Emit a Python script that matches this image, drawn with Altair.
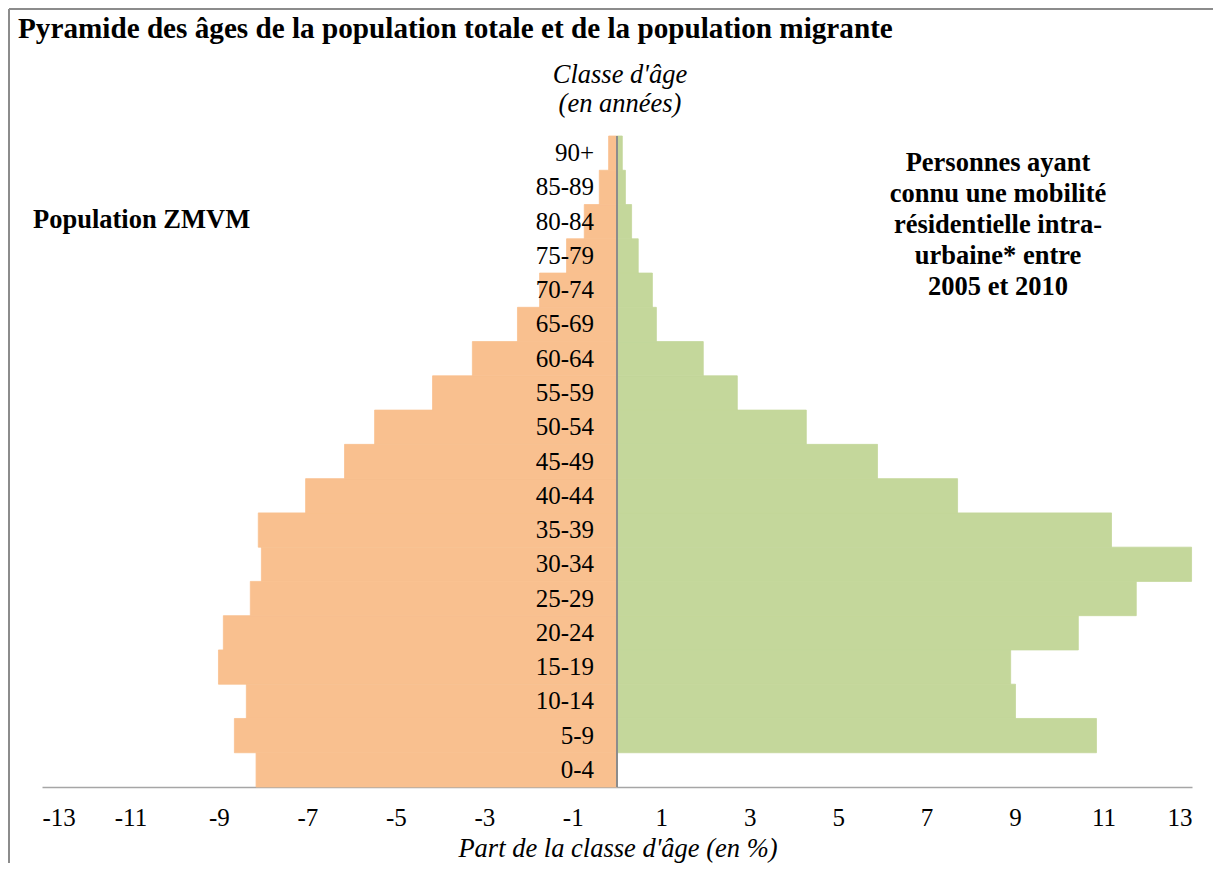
import altair as alt
import pandas as pd

ages = ["0-4", "5-9", "10-14", "15-19", "20-24", "25-29", "30-34", "35-39", "40-44",
        "45-49", "50-54", "55-59", "60-64", "65-69", "70-74", "75-79", "80-84", "85-89", "90+"]
total = [-8.16, -8.65, -8.38, -9.01, -8.90, -8.29, -8.04, -8.11, -7.04, -6.16, -5.48,
         -4.17, -3.27, -2.25, -1.75, -1.14, -0.74, -0.40, -0.19]
migrants = [0.0, 10.84, 9.01, 8.90, 10.43, 11.74, 12.99, 11.18, 7.70, 5.89, 4.28,
            2.72, 1.95, 0.89, 0.80, 0.48, 0.33, 0.19, 0.12]
x_ticks = [-13, -11, -9, -7, -5, -3, -1, 1, 3, 5, 7, 9, 11, 13]

title_text = "Pyramide des âges de la population totale et de la population migrante"
y_title = "Classe d'âge\n(en années)"
x_title = "Part de la classe d'âge (en %)"
left_label = "Population ZMVM"
right_label = "Personnes ayant\nconnu une mobilité\nrésidentielle intra-\nurbaine* entre\n2005 et 2010"

FONT = "Liberation Serif"
W, H = 1150, 651
order = ages[::-1]
ORANGE = "#F9C08F"
GREEN = "#C4D79B"

df = pd.DataFrame({"age": ages, "total": total, "migrants": migrants})

xscale = alt.Scale(domain=[-13, 13], nice=False, zero=False)
yscale = alt.Scale(paddingInner=0, paddingOuter=0)

base = alt.Chart(df)

bars_total = base.mark_bar(color=ORANGE, stroke=ORANGE, strokeWidth=0.8).encode(
    x=alt.X("total:Q", scale=xscale,
            axis=alt.Axis(values=x_ticks, title=None, grid=False, ticks=False,
                          labelExpr="'' + datum.value",
                          labelFont=FONT, labelFontSize=25, labelColor="black",
                          labelPadding=18, domainColor="#A6A6A6", domainWidth=1.5)),
    y=alt.Y("age:N", sort=order, scale=yscale, axis=None),
)

bars_mig = base.mark_bar(color=GREEN, stroke=GREEN, strokeWidth=0.8).encode(
    x=alt.X("migrants:Q", scale=xscale),
    y=alt.Y("age:N", sort=order, scale=yscale, axis=None),
)

center = alt.Chart(pd.DataFrame({"v": [0]})).mark_rule(color="#8C8C8C", strokeWidth=2).encode(
    x=alt.X("v:Q", scale=xscale)
)

age_labels = base.mark_text(font=FONT, fontSize=25, align="right", baseline="middle",
                            color="black").encode(
    y=alt.Y("age:N", sort=order, scale=yscale, axis=None),
    x=alt.value(552),
    text="age:N",
)

one = pd.DataFrame({"a": [0]})

def label(text, x, y, size=22, weight="normal", style="normal", align="center",
          baseline="middle", lh=None):
    kw = dict(font=FONT, fontSize=size, fontWeight=weight, fontStyle=style,
              align=align, baseline=baseline, color="black", lineBreak="\n")
    if lh:
        kw["lineHeight"] = lh
    return alt.Chart(pd.DataFrame({"t": [text]})).mark_text(**kw).encode(
        x=alt.value(x), y=alt.value(y), text="t:N")

t_main = label(title_text, -24, -98, size=29.2, weight="bold", align="left", baseline="alphabetic")
t_y = label(y_title, 578, -61, size=26.5, style="italic", lh=29)
t_x = label(x_title, 576, 721, size=26.5, style="italic", baseline="alphabetic")
t_left = label(left_label, -9, 84, size=26.5, weight="bold", align="left")
t_right = label(right_label, 956, 27, size=26.5, weight="bold", lh=31)

frame_top = alt.Chart(one).mark_rule(color="#8C8C8C", strokeWidth=2).encode(
    x=alt.value(-33), x2=alt.value(1175), y=alt.value(-127))
frame_left = alt.Chart(one).mark_rule(color="#8C8C8C", strokeWidth=2).encode(
    x=alt.value(-33), y=alt.value(-127), y2=alt.value(730))

chart = alt.layer(
    frame_top, frame_left, bars_total, bars_mig, center, age_labels,
    t_main, t_y, t_x, t_left, t_right
).properties(
    width=W, height=H,
    padding={"left": 34, "top": 128, "right": 21, "bottom": 76},
    autosize=alt.AutoSizeParams(type="none"),
).configure_view(stroke=None)

chart.save("out.html", embed_options={"renderer": "svg", "actions": False})
